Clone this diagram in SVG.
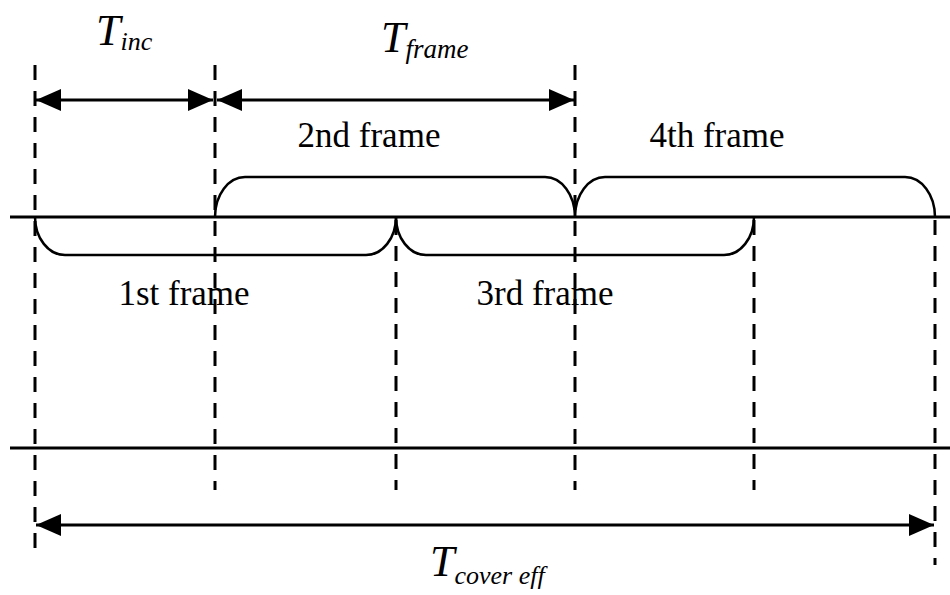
<svg xmlns="http://www.w3.org/2000/svg" width="950" height="595" viewBox="0 0 950 595">
<style>
.dash{stroke:#000;stroke-width:3;stroke-dasharray:15 11;fill:none}
.line{stroke:#000;stroke-width:3;fill:none}
.brace{stroke:#000;stroke-width:2.5;fill:none}
.lbl{font-family:"Liberation Serif",serif;font-size:35px;fill:#000;text-anchor:middle}
.t{font-family:"Liberation Serif",serif;font-style:italic;fill:#000}
</style>
<defs>
<marker id="ah" markerUnits="userSpaceOnUse" markerWidth="25" markerHeight="24" viewBox="0 0 25 24" refX="25" refY="12" orient="auto-start-reverse">
<path d="M0,1 L25,12 L0,23 z" fill="#000"/>
</marker>
</defs>
<g id="guides">
<line class="dash" x1="35" y1="65" x2="35" y2="555"/>
<line class="dash" x1="215" y1="65" x2="215" y2="490"/>
<line class="dash" x1="575" y1="65" x2="575" y2="490"/>
<line class="dash" x1="396" y1="220" x2="396" y2="490"/>
<line class="dash" x1="754" y1="220" x2="754" y2="490"/>
<line class="dash" x1="935" y1="220" x2="935" y2="565"/>
<line class="line" x1="10" y1="217" x2="950" y2="217"/>
<line class="line" x1="10" y1="448" x2="950" y2="448"/>
</g>
<g id="connectors">
<line class="line" x1="36" y1="100" x2="213" y2="100" marker-start="url(#ah)" marker-end="url(#ah)"/>
<line class="line" x1="217" y1="100" x2="574" y2="100" marker-start="url(#ah)" marker-end="url(#ah)"/>
<line class="line" x1="36" y1="525" x2="934" y2="525" marker-start="url(#ah)" marker-end="url(#ah)"/>
</g>
<g id="frame1">
<path class="brace" d="M35,217 A30,38 0 0 0 65,255 L366,255 A30,38 0 0 0 396,217"/>
<text class="lbl" x="184" y="305">1st frame</text>
</g>
<g id="frame2">
<path class="brace" d="M215,217 A30,40 0 0 1 245,177 L545,177 A30,40 0 0 1 575,217"/>
<text class="lbl" x="369" y="147">2nd frame</text>
</g>
<g id="frame3">
<path class="brace" d="M396,217 A30,38 0 0 0 426,255 L724,255 A30,38 0 0 0 754,217"/>
<text class="lbl" x="545" y="305">3rd frame</text>
</g>
<g id="frame4">
<path class="brace" d="M575,217 A30,40 0 0 1 605,177 L905,177 A30,40 0 0 1 935,217"/>
<text class="lbl" x="717" y="147">4th frame</text>
</g>
<g id="labels">
<text class="t" x="96" y="45" font-size="44">T<tspan font-size="26" dy="5">inc</tspan></text>
<text class="t" x="381" y="52" font-size="44">T<tspan font-size="27" dy="6">frame</tspan></text>
<text class="t" x="430" y="576" font-size="44">T<tspan font-size="26" dy="8">cover eff</tspan></text>
</g>
</svg>
